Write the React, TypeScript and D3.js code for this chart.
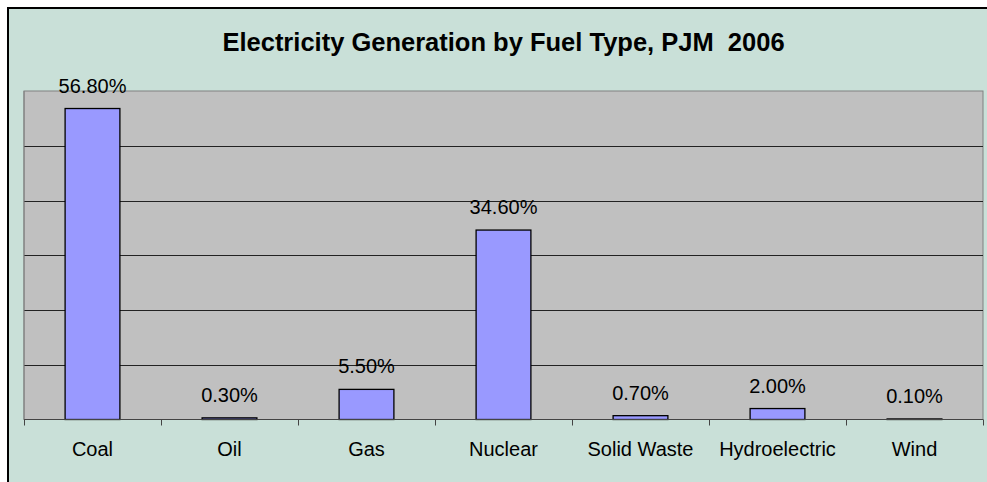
import React from "react";
import * as d3 from "d3";

const categories = ["Coal", "Oil", "Gas", "Nuclear", "Solid Waste", "Hydroelectric", "Wind"];
const shares = [56.8, 0.3, 5.5, 34.6, 0.7, 2.0, 0.1];
const valueLabels = ["56.80%", "0.30%", "5.50%", "34.60%", "0.70%", "2.00%", "0.10%"];
const yTicks = [0, 10, 20, 30, 40, 50, 60];
const title = "Electricity Generation by Fuel Type, PJM\u00a0 2006";

const W = 987;
const H = 482;
const plot = { left: 24, right: 983, top: 91, bottom: 419.5 };
const FONT = "'Liberation Sans', Arial, sans-serif";

export default function App() {
  const x = d3.scaleBand<string>().domain(categories).range([plot.left, plot.right]).paddingInner(0).paddingOuter(0);
  const y = d3.scaleLinear().domain([0, 60]).range([plot.bottom, plot.top]);
  const bw = x.bandwidth() * 0.4;
  const ticksX = categories.map((c) => x(c) as number).concat([plot.right]);

  return (
    <svg width={W} height={H} style={{ position: "absolute", left: 0, top: 0 }} fontFamily={FONT}>
      <rect x={0} y={0} width={W} height={H} fill="#ffffff" />
      <rect x={8} y={8} width={W + 10} height={H + 10} fill="#c9e0d8" stroke="#000" strokeWidth={2} />
      <rect x={plot.left} y={plot.top} width={plot.right - plot.left} height={plot.bottom - plot.top} fill="#c0c0c0" stroke="#808080" strokeWidth={1} />
      {yTicks.slice(1, -1).map((t) => (
        <line key={t} x1={plot.left} x2={plot.right} y1={Math.round(y(t)) + 0.5} y2={Math.round(y(t)) + 0.5} stroke="#222" strokeWidth={1} />
      ))}
      {shares.map((v, i) => {
        const cx = (x(categories[i]) as number) + x.bandwidth() / 2;
        return (
          <g key={categories[i]}>
            <rect x={cx - bw / 2} y={y(v)} width={bw} height={plot.bottom - y(v)} fill="#9999ff" stroke="#000" strokeWidth={1.3} />
            <text x={cx} y={y(v) - 16} textAnchor="middle" fontSize={20} fill="#000">{valueLabels[i]}</text>
            <text x={cx} y={456} textAnchor="middle" fontSize={20} fill="#000">{categories[i]}</text>
          </g>
        );
      })}
      <line x1={plot.left} x2={plot.right} y1={plot.bottom} y2={plot.bottom} stroke="#444" strokeWidth={1} />
      <line x1={plot.left} x2={plot.left} y1={plot.top} y2={plot.bottom} stroke="#808080" strokeWidth={1} />
      {ticksX.map((tx, i) => (
        <line key={i} x1={Math.round(tx) + 0.5} x2={Math.round(tx) + 0.5} y1={plot.bottom} y2={plot.bottom + 6} stroke="#444" strokeWidth={1} />
      ))}
      <text x={(plot.left + plot.right) / 2} y={51} textAnchor="middle" fontSize={25.5} fontWeight="bold" fill="#000">{title}</text>
    </svg>
  );
}
